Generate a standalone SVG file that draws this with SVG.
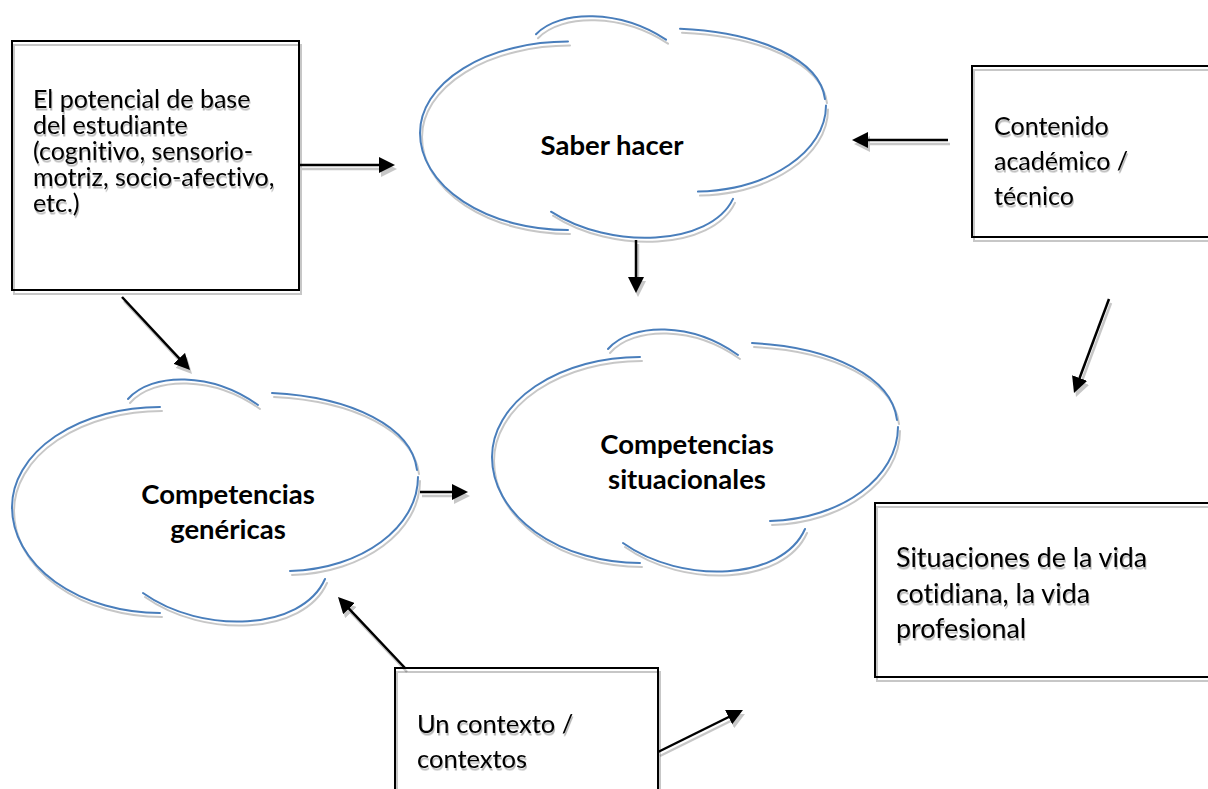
<svg xmlns="http://www.w3.org/2000/svg" width="1208" height="789" viewBox="0 0 1208 789">
<style>
text{font-variant-ligatures:none;font-feature-settings:"liga" 0}
.box{fill:none;stroke:#000;stroke-width:2}
.cl{fill:none;stroke:#4A7EBB;stroke-width:2;stroke-linecap:round}
.ar{fill:none;stroke:#000;stroke-width:2.5;marker-end:url(#ah)}
.t{font-family:Lato,"Liberation Sans",sans-serif;font-size:25px;fill:#000}
.t2{font-family:Lato,"Liberation Sans",sans-serif;font-size:26.8px;fill:#000}
.t3{font-family:Lato,"Liberation Sans",sans-serif;font-size:25.5px;fill:#000}
.b{font-family:Lato,"Liberation Sans",sans-serif;font-size:27.5px;font-weight:bold;fill:#000;text-anchor:middle}
</style>
<defs>
<filter id="sh" filterUnits="userSpaceOnUse" x="-2000" y="-2000" width="5000" height="5000">
<feDropShadow dx="2" dy="4" stdDeviation="0.7" flood-color="#000" flood-opacity="0.22"/>
</filter>
<filter id="tsh" filterUnits="userSpaceOnUse" x="-2000" y="-2000" width="5000" height="5000">
<feDropShadow dx="1" dy="2.5" stdDeviation="0.6" flood-color="#000" flood-opacity="0.28"/>
</filter>
<marker id="ah" markerUnits="userSpaceOnUse" markerWidth="16" markerHeight="16" refX="8" refY="8" orient="auto">
<path d="M0,0 L16,8 L0,16 z" fill="#000"/>
</marker>
<path id="cloud" d="M148,-100 A148,100 0 0 0 0,0 A148,106 0 0 0 148,106 M116,-108 C140,-135 200,-135 246,-102 M260,-114 C340,-110 400,-80 405,-37 M406,-30 C406,20 350,62 278,64 M313,72 C290,124 190,128 131,86"/>
</defs>
<rect width="1208" height="789" fill="#fff"/>

<g id="connectors" filter="url(#sh)">
<line class="ar" x1="300" y1="165" x2="387" y2="165"/>
<line class="ar" x1="948" y1="140" x2="860" y2="140"/>
<line class="ar" x1="636" y1="240" x2="636" y2="285"/>
<line class="ar" x1="122" y1="297" x2="184.6" y2="364.2"/>
<line class="ar" x1="420" y1="492" x2="460" y2="492"/>
<line class="ar" x1="405" y1="668" x2="343.5" y2="602.8"/>
<line class="ar" x1="658" y1="752" x2="735.8" y2="713.5"/>
<line class="ar" x1="1109" y1="299" x2="1076.8" y2="385.5"/>
</g>

<g id="box-potencial">
<rect class="box" x="12" y="41" width="287" height="249" filter="url(#sh)"/>
<g filter="url(#tsh)">
<text class="t" x="33" y="108">El potencial de base</text>
<text class="t" x="33" y="134">del estudiante</text>
<text class="t" x="33" y="160">(cognitivo, sensorio-</text>
<text class="t" x="33" y="186">motriz, socio-afectivo,</text>
<text class="t" x="33" y="212">etc.)</text>
</g>
</g>

<g id="cloud-saber">
<path class="cl" filter="url(#sh)" transform="translate(420,133)" d="M148,-91.5 A148,91.5 0 0 0 0,0 A148,97 0 0 0 148,97 M116,-98.8 C140,-123.5 200,-123.5 246,-93.3 M260,-104.3 C340,-100.7 400,-73.2 405,-33.9 M406,-27.5 C406,18.3 350,56.7 278,58.6 M313,65.9 C290,113.5 190,117.1 131,78.7"/>
<text class="b" x="612" y="155">Saber hacer</text>
</g>

<g id="box-contenido">
<rect class="box" x="972" y="66" width="250" height="171" filter="url(#sh)"/>
<g filter="url(#tsh)">
<text class="t" x="994" y="135">Contenido</text>
<text class="t" x="994" y="170">académico /</text>
<text class="t" x="994" y="205">técnico</text>
</g>
</g>

<g id="cloud-genericas">
<use href="#cloud" class="cl" filter="url(#sh)" transform="translate(12,507)"/>
<text class="b" x="228" y="504">Competencias</text>
<text class="b" x="228" y="539">genéricas</text>
</g>

<g id="cloud-situacionales">
<use href="#cloud" class="cl" filter="url(#sh)" transform="translate(492,457)"/>
<text class="b" x="687" y="454">Competencias</text>
<text class="b" x="687" y="489">situacionales</text>
</g>

<g id="box-situaciones">
<rect class="box" x="875" y="503" width="350" height="174" filter="url(#sh)"/>
<g filter="url(#tsh)">
<text class="t2" x="896" y="567">Situaciones de la vida</text>
<text class="t2" x="896" y="603">cotidiana, la vida</text>
<text class="t2" x="896" y="638">profesional</text>
</g>
</g>

<g id="box-contexto">
<rect class="box" x="395" y="668" width="263" height="140" filter="url(#sh)"/>
<g filter="url(#tsh)">
<text class="t3" x="417" y="733">Un contexto /</text>
<text class="t3" x="417" y="768">contextos</text>
</g>
</g>
</svg>
